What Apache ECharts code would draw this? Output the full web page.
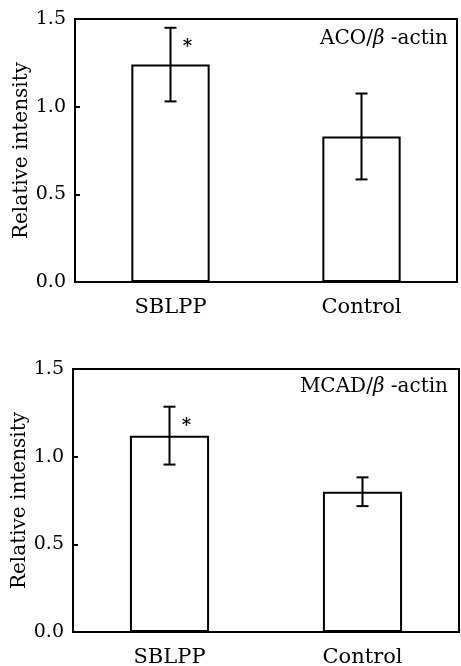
<!DOCTYPE html>
<html>
<head>
<meta charset="utf-8">
<script src="https://cdn.jsdelivr.net/npm/echarts@6/dist/echarts.min.js"></script>
<style>
  html, body { margin: 0; padding: 0; background: #fff; }
  #chart { width: 461px; height: 666px; }
</style>
</head>
<body>
<div id="chart"></div>
<script>
  // data
  var categories = ['SBLPP', 'Control']
  var acoMean = [1.24, 0.83]
  var acoErr = [0.21, 0.245]
  var mcadMean = [1.12, 0.80]
  var mcadErr = [0.165, 0.082]
  var sigMarks = ['*', '']
  var yTicks = [0, 0.5, 1.0, 1.5]

  var font = 'DejaVu Serif'

  function errData(mean, err) {
    return mean.map(function (m, i) {
      return [i, m - err[i], m + err[i]]
    })
  }

  function renderErr(params, api) {
    var i = api.value(0)
    var lo = api.coord([i, api.value(1)])
    var hi = api.coord([i, api.value(2)])
    var w = 6
    var st = { stroke: '#000', lineWidth: 2 }
    var kids = [
      { type: 'line', shape: { x1: hi[0], y1: hi[1], x2: lo[0], y2: lo[1] }, style: st },
      { type: 'line', shape: { x1: hi[0] - w, y1: hi[1], x2: hi[0] + w, y2: hi[1] }, style: st },
      { type: 'line', shape: { x1: lo[0] - w, y1: lo[1], x2: lo[0] + w, y2: lo[1] }, style: st }
    ]
    if (sigMarks[i]) {
      kids.push({
        type: 'text',
        style: {
          text: sigMarks[i], x: hi[0] + 17, y: hi[1] + 20,
          fill: '#000', font: 'bold 18px ' + font,
          align: 'center', verticalAlign: 'middle'
        }
      })
    }
    return { type: 'group', children: kids }
  }

  function xAxisOf(gi) {
    return {
      type: 'category', gridIndex: gi, data: categories,
      axisLine: { lineStyle: { color: '#000', width: 2 } },
      axisTick: { inside: true, length: 5, lineStyle: { color: '#000', width: 2 } },
      axisLabel: { color: '#000', fontFamily: font, fontSize: 21, margin: 15 }
    }
  }

  function yAxisOf(gi) {
    return {
      type: 'value', gridIndex: gi, min: 0, max: 1.5, interval: 0.5,
      name: 'Relative intensity', nameLocation: 'middle', nameGap: 43, nameMoveOverlap: false,
      nameTextStyle: { color: '#000', fontFamily: font, fontSize: 20 },
      axisLine: { show: true, lineStyle: { color: '#000', width: 2 } },
      axisTick: { show: true, inside: true, length: 5, lineStyle: { color: '#000', width: 2 } },
      splitLine: { show: false },
      axisLabel: {
        color: '#000', fontFamily: font, fontSize: 19, margin: 9,
        formatter: function (v) { return yTicks.indexOf(v) >= 0 ? v.toFixed(1) : '' }
      }
    }
  }

  function barOf(gi, mean) {
    return {
      type: 'bar', xAxisIndex: gi, yAxisIndex: gi, data: mean, barWidth: '41%',
      itemStyle: { color: '#fff', borderColor: '#000', borderWidth: 2 },
      silent: true
    }
  }

  function errOf(gi, mean, err) {
    return {
      type: 'custom', xAxisIndex: gi, yAxisIndex: gi,
      data: errData(mean, err), encode: { x: 0, y: [1, 2] },
      renderItem: renderErr, z: 5, silent: true
    }
  }

  function tag(name, top, right) {
    return {
      type: 'text', right: right, top: top,
      style: {
        text: name + '/{b|β} -actin', fill: '#000', font: '20px ' + font,
        rich: { b: { fontStyle: 'italic', fontFamily: font, fontSize: 20, fill: '#000' } }
      }
    }
  }

  var chart = echarts.init(document.getElementById('chart'), null, { renderer: 'canvas' })
  chart.setOption({
    backgroundColor: '#fff',
    animation: false,
    grid: [
      { left: 75, top: 19, width: 382, height: 263, outerBoundsMode: 'none', containLabel: false, show: true, borderColor: '#000', borderWidth: 2, backgroundColor: 'transparent' },
      { left: 73, top: 369, width: 386, height: 263, outerBoundsMode: 'none', containLabel: false, show: true, borderColor: '#000', borderWidth: 2, backgroundColor: 'transparent' }
    ],
    xAxis: [xAxisOf(0), xAxisOf(1)],
    yAxis: [yAxisOf(0), yAxisOf(1)],
    graphic: [tag('ACO', 29, 13), tag('MCAD', 377, 13)],
    series: [
      barOf(0, acoMean), errOf(0, acoMean, acoErr),
      barOf(1, mcadMean), errOf(1, mcadMean, mcadErr)
    ]
  })
</script>
</body>
</html>
